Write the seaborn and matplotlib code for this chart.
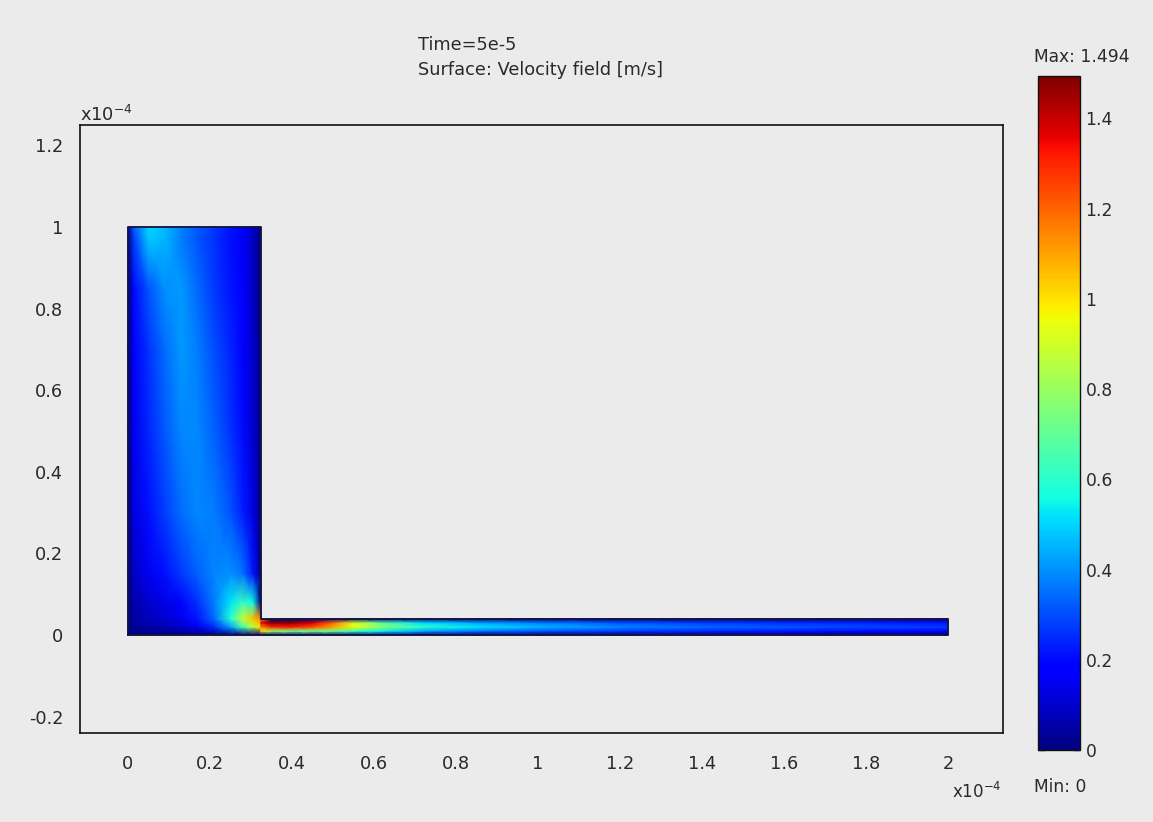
import numpy as np
import matplotlib
matplotlib.use("Agg")
import matplotlib.pyplot as plt
import seaborn as sns
from matplotlib.colors import Normalize

# ---- Velocity magnitude samples [m/s]; coordinates in units of 1e-4 m ----
# Reservoir (tall chamber on the left); rows run from y = 0 upward
chamber_x = [0, 0.015, 0.05, 0.09, 0.13, 0.17, 0.21, 0.25, 0.28, 0.305, 0.324]
chamber_y = [0, 0.02, 0.04, 0.08, 0.15, 0.3, 0.5, 0.7, 0.85, 0.97, 1.0]
chamber_speed = [
    [0.0, 0.00, 0.00, 0.00, 0.00, 0.00, 0.00, 0.00, 0.00, 0.00, 0.0],
    [0.0, 0.03, 0.05, 0.07, 0.10, 0.15, 0.25, 0.42, 0.65, 0.85, 1.0],
    [0.0, 0.05, 0.08, 0.11, 0.15, 0.22, 0.34, 0.58, 0.88, 1.05, 1.15],
    [0.0, 0.06, 0.10, 0.14, 0.19, 0.26, 0.37, 0.52, 0.62, 0.55, 0.0],
    [0.0, 0.09, 0.15, 0.21, 0.27, 0.33, 0.38, 0.40, 0.36, 0.22, 0.0],
    [0.0, 0.13, 0.21, 0.28, 0.35, 0.39, 0.37, 0.31, 0.23, 0.13, 0.0],
    [0.0, 0.15, 0.24, 0.32, 0.39, 0.39, 0.33, 0.26, 0.20, 0.11, 0.0],
    [0.0, 0.17, 0.26, 0.35, 0.41, 0.37, 0.30, 0.24, 0.18, 0.10, 0.0],
    [0.0, 0.20, 0.31, 0.40, 0.41, 0.34, 0.27, 0.22, 0.17, 0.09, 0.0],
    [0.0, 0.28, 0.48, 0.45, 0.37, 0.31, 0.26, 0.21, 0.16, 0.09, 0.0],
    [0.05, 0.33, 0.50, 0.46, 0.38, 0.32, 0.27, 0.22, 0.17, 0.10, 0.0],
]

# Outlet channel (long thin strip along the bottom)
channel_x = [0.324, 0.35, 0.4, 0.45, 0.5, 0.55, 0.62, 0.72, 0.85, 1.0, 1.2, 1.4, 1.7, 2.0]
channel_y = [0, 0.01, 0.02, 0.03, 0.04]
channel_speed = [
    [0.0] * 14,
    [1.0, 0.80, 0.74, 0.74, 0.72, 0.64, 0.54, 0.43, 0.36, 0.31, 0.27, 0.24, 0.21, 0.19],
    [1.15, 1.30, 1.32, 1.24, 1.10, 0.94, 0.76, 0.60, 0.52, 0.45, 0.38, 0.34, 0.30, 0.27],
    [1.35, 1.494, 1.47, 1.38, 1.18, 0.92, 0.68, 0.51, 0.43, 0.37, 0.31, 0.28, 0.25, 0.22],
    [1.15] + [0.0] * 13,
]

speed_min, speed_max = 0.0, 1.494

x_ticks = [0, 0.2, 0.4, 0.6, 0.8, 1.0, 1.2, 1.4, 1.6, 1.8, 2.0]
x_tick_labels = ["0", "0.2", "0.4", "0.6", "0.8", "1", "1.2", "1.4", "1.6", "1.8", "2"]
y_ticks = [-0.2, 0, 0.2, 0.4, 0.6, 0.8, 1.0, 1.2]
y_tick_labels = ["-0.2", "0", "0.2", "0.4", "0.6", "0.8", "1", "1.2"]
cbar_ticks = [0, 0.2, 0.4, 0.6, 0.8, 1.0, 1.2, 1.4]
cbar_tick_labels = ["0", "0.2", "0.4", "0.6", "0.8", "1", "1.2", "1.4"]

# ---- Styling ----
bg = "#ebebeb"
ink = "#2a2a2a"
fs = 12.8      # axis and title text
fs_bar = 12.3  # colour bar labels
sns.set_theme(style="white", rc={"axes.facecolor": bg, "figure.facecolor": bg})
plt.rcParams["font.family"] = ["DejaVu Sans"]
plt.rcParams["font.size"] = fs

W, H = 1153, 822
fig = plt.figure(figsize=(W / 100, H / 100), dpi=100, facecolor=bg)
ax = fig.add_axes([80 / W, 1 - 733 / H, 923 / W, 608 / H])
ax.set_facecolor(bg)

norm = Normalize(vmin=speed_min, vmax=speed_max)
mesh = ax.pcolormesh(chamber_x, chamber_y, np.array(chamber_speed),
                     shading="gouraud", cmap="jet", norm=norm, antialiased=True)
ax.pcolormesh(channel_x, channel_y, np.array(channel_speed),
              shading="gouraud", cmap="jet", norm=norm, antialiased=True)

# Domain boundary
cx_end, ch_top = chamber_x[-1], channel_y[-1]
bx = [0, channel_x[-1], channel_x[-1], cx_end, cx_end, 0, 0]
by = [0, 0, ch_top, ch_top, chamber_y[-1], chamber_y[-1], 0]
ax.plot(bx, by, color="#14143c", lw=1.3, solid_joinstyle="round")

ax.set_xlim(-0.117, 2.134)
ax.set_ylim(-0.24, 1.25)
ax.set_xticks(x_ticks, x_tick_labels)
ax.set_yticks(y_ticks, y_tick_labels)
ax.tick_params(axis="both", length=0, colors=ink, labelsize=fs)
ax.tick_params(axis="x", pad=16)
ax.tick_params(axis="y", pad=12)
for s in ax.spines.values():
    s.set_visible(True)
    s.set_color("#111111")
    s.set_linewidth(1.2)

# Axis multipliers
ax.text(0.0, 1.0, r"x10$^{\mathregular{-4}}$", transform=ax.transAxes,
        ha="left", va="bottom", color=ink, fontsize=fs)
fig.text(952 / W, 1 - 792 / H, r"x10$^{\mathregular{-4}}$",
         ha="left", va="center", color=ink, fontsize=12)

# Title lines
fig.text(418 / W, 1 - 45 / H, "Time=5e-5", ha="left", va="center", color=ink, fontsize=fs)
fig.text(418 / W, 1 - 70 / H, "Surface: Velocity field [m/s]", ha="left", va="center",
         color=ink, fontsize=fs)

# Colour bar
cax = fig.add_axes([1038 / W, 1 - 750 / H, 42 / W, 674 / H])
cb = fig.colorbar(mesh, cax=cax, ticks=cbar_ticks)
cb.set_ticklabels(cbar_tick_labels)
cb.outline.set_edgecolor("#111111")
cb.outline.set_linewidth(1.0)
cax.tick_params(direction="in", left=True, right=True, length=5, width=1,
                colors=ink, labelsize=fs_bar, pad=4)
fig.text(1034 / W, 1 - 57 / H, f"Max: {speed_max}", ha="left", va="center",
         color=ink, fontsize=fs_bar)
fig.text(1034 / W, 1 - 787 / H, f"Min: {speed_min:g}", ha="left", va="center",
         color=ink, fontsize=fs_bar)

fig.savefig("out.png", dpi=100, facecolor=bg)
